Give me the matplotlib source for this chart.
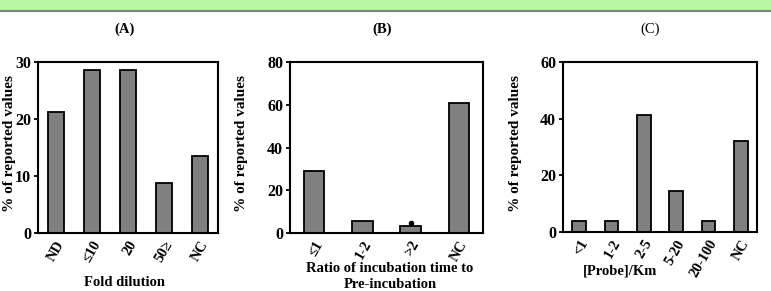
import numpy as np
import matplotlib
matplotlib.use('Agg')
import matplotlib.pyplot as plt
from matplotlib.patches import Rectangle
from matplotlib.lines import Line2D

plt.rcParams['font.family'] = ['Liberation Serif', 'DejaVu Serif']
plt.rcParams['font.weight'] = 'bold'

# data
catsA = ['ND', '≤10', '20', '50≥', 'NC']
valsA = [21.3, 28.6, 28.6, 8.8, 13.5]

catsB = ['≤1', '1-2', '>2', 'NC']
valsB = [29, 5.5, 3.5, 61]

catsC = ['<1', '1-2', '2-5', '5-20', '20-100', 'NC']
valsC = [4, 4, 41.3, 14.5, 4, 32]

W, H = 771, 291
fig = plt.figure(figsize=(W/100, H/100), dpi=100)

# green band on top
fig.patches.append(Rectangle((0, 1-10/H), 1, 10/H, transform=fig.transFigure,
                             facecolor='#b8f8a2', edgecolor='none'))
fig.lines.append(Line2D([0, 1], [1-11/H, 1-11/H], transform=fig.transFigure,
                        color='#808080', lw=1.5))

def px_axes(l, r, t, b):
    return fig.add_axes([l/W, 1-b/H, (r-l)/W, (b-t)/H])

def panel(ax, cats, vals, ymax, yticks, width):
    x = np.arange(len(cats))
    ax.bar(x, vals, width=width, color='#808080', edgecolor='black', linewidth=1.3, zorder=2)
    ax.set_xlim(-0.5, len(cats)-0.5)
    ax.set_ylim(0, ymax)
    ax.set_yticks(yticks)
    ax.set_xticks(x)
    ax.set_xticklabels(cats, rotation=60, ha='right', va='top', rotation_mode='anchor',
                       fontsize=10.5, fontweight='bold')
    for lab in ax.get_yticklabels():
        lab.set_fontsize(11.5)
        lab.set_fontweight('bold')
    ax.tick_params(axis='x', length=0, pad=4)
    ax.tick_params(axis='y', length=3, width=1.3, pad=2)
    for s in ax.spines.values():
        s.set_linewidth(1.5)

axA = px_axes(38, 218, 62, 233)
panel(axA, catsA, valsA, 30, [0, 10, 20, 30], 0.45)
axB = px_axes(290, 483, 62, 233)
panel(axB, catsB, valsB, 80, [0, 20, 40, 60, 80], 0.42)
axB.plot([2], [4.6], 'o', color='black', ms=3, zorder=3)
axC = px_axes(563, 757, 62, 232)
panel(axC, catsC, valsC, 60, [0, 20, 40, 60], 0.43)

def ftext(x, y, s, **kw):
    fig.text(x/W, 1-y/H, s, ha='center', va='center', **kw)

ftext(125, 29, '(A)', fontsize=10.5, fontweight='bold')
ftext(382, 29, '(B)', fontsize=10.5, fontweight='bold')
ftext(650, 29, '(C)', fontsize=10.5, fontweight='normal')

for xp in [10, 242, 516]:
    ftext(xp, 143, '% of reported values', fontsize=11, fontweight='bold', rotation=90)

ftext(125, 283, 'Fold dilution', fontsize=10.5, fontweight='bold')
ftext(390, 268, 'Ratio of incubation time to', fontsize=10.5, fontweight='bold')
ftext(390, 285, 'Pre-incubation', fontsize=10.5, fontweight='bold')
ftext(620, 271, '[Probe]/Km', fontsize=10.5, fontweight='bold')

fig.savefig('out.png', dpi=100)
